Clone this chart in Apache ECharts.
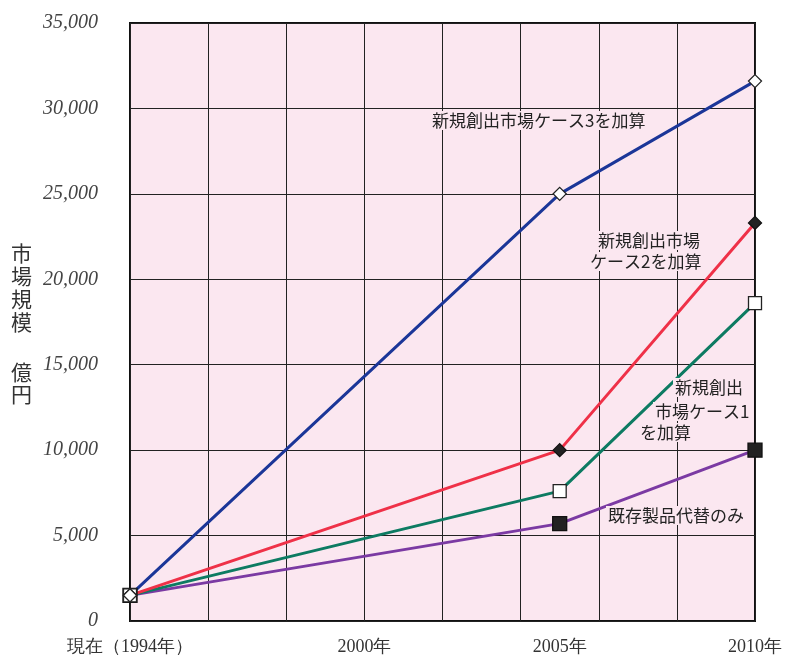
<!DOCTYPE html>
<html>
<head>
<meta charset="utf-8">
<script src="https://cdn.jsdelivr.net/npm/echarts@6/dist/echarts.min.js"></script>
<style>
  html, body { margin: 0; padding: 0; background: #ffffff; }
  #chart { width: 785px; height: 660px; }
</style>
</head>
<body>
<div id="chart"></div>
<script>
// Market size projections (億円)
const years = [1994, 2005, 2010];
const case3 = [1500, 25000, 31600];   // 新規創出市場ケース3を加算
const case2 = [1500, 10000, 23300];   // 新規創出市場ケース2を加算
const case1 = [1500, 7600, 18600];    // 新規創出市場ケース1を加算
const existing = [1500, 5700, 10000]; // 既存製品代替のみ
const xLabelYears = [1994, 2000, 2005, 2010];
const yTicks = [0, 5000, 10000, 15000, 20000, 25000, 30000, 35000];

const pink = '#fbe7f0';
const serif = "'Liberation Serif', 'DejaVu Serif', serif";
const gothic = "'Noto Sans CJK JP', sans-serif";

function pairs(vals) { return years.map((y, i) => [y, vals[i]]); }

function lineSeries(name, vals, color, symbol, size, fill, border) {
  return {
    name: name,
    type: 'line',
    data: pairs(vals),
    symbol: symbol,
    symbolSize: size,
    showAllSymbol: true,
    lineStyle: { color: color, width: 3 },
    itemStyle: { color: fill, borderColor: border, borderWidth: 1.3 },
    emphasis: { disabled: true },
    z: 3
  };
}

const chart = echarts.init(document.getElementById('chart'), null, { renderer: 'canvas' });

// in-plot annotation with a pink box that masks the grid behind it
const annot = (text, x, y) => ({
  type: 'text',
  left: x, top: y,
  z: 10,
  style: {
    text: text,
    fill: '#222',
    font: '17px ' + gothic,
    backgroundColor: pink,
    padding: [1, 2]
  }
});

chart.setOption({
  animation: false,
  backgroundColor: '#ffffff',
  grid: {
    left: 130, right: 30, top: 23, bottom: 39,
    show: true,
    backgroundColor: pink,
    borderColor: '#111',
    borderWidth: 2
  },
  xAxis: {
    type: 'value',
    min: 1994, max: 2010, interval: 2,
    axisLine: { show: false },
    axisTick: { show: false },
    splitLine: { show: true, lineStyle: { color: '#222', width: 1 } },
    axisLabel: {
      customValues: xLabelYears,
      margin: 17,
      color: '#333',
      fontFamily: serif,
      fontSize: 18,
      formatter: v => v === 1994 ? '現在（1994年）' : v + '年'
    }
  },
  yAxis: {
    type: 'value',
    min: yTicks[0], max: yTicks[yTicks.length - 1], interval: 5000,
    axisLine: { show: false },
    axisTick: { show: false },
    splitLine: { show: true, lineStyle: { color: '#222', width: 1 } },
    axisLabel: {
      margin: 32,
      color: '#444',
      fontFamily: serif,
      fontStyle: 'italic',
      fontSize: 20,
      formatter: v => v.toLocaleString('en-US')
    }
  },
  series: [
    lineSeries('既存製品代替のみ', existing, '#7b3aa3', 'rect', 14, '#222', '#111'),
    lineSeries('新規創出市場ケース1を加算', case1, '#0d7b62', 'rect', 13, '#ffffff', '#222'),
    lineSeries('新規創出市場ケース2を加算', case2, '#ef3148', 'diamond', 13, '#222', '#111'),
    lineSeries('新規創出市場ケース3を加算', case3, '#1b3698', 'diamond', 13, '#ffffff', '#222')
  ],
  graphic: [
    { type: 'text', left: 11, top: 242, style: { text: '市\n場\n規\n模', fill: '#333', font: '21px ' + gothic, lineHeight: 23 } },
    { type: 'text', left: 11, top: 361, style: { text: '億\n円', fill: '#333', font: '21px ' + gothic, lineHeight: 22 } },
    annot('新規創出市場ケース3を加算', 430, 111),
    annot('新規創出市場', 596, 231),
    annot('ケース2を加算', 588, 252),
    annot('新規創出', 673, 378),
    annot('市場ケース1', 653, 402),
    annot('を加算', 638, 423),
    annot('既存製品代替のみ', 606, 506)
  ]
});
</script>
</body>
</html>
